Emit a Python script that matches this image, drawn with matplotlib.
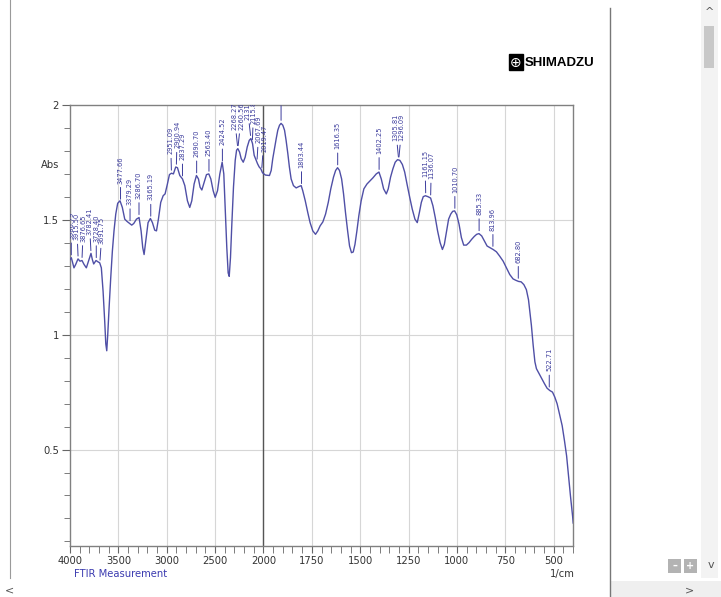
import matplotlib
matplotlib.use("Agg")
import matplotlib.pyplot as plt
import numpy as np
from matplotlib import font_manager
from matplotlib.patches import Rectangle
from matplotlib.lines import Line2D

# FTIR spectrum: wavenumber (1/cm) and absorbance
wavenumber = [
    4000, 3986, 3972, 3959, 3941, 3917, 3897, 3876, 3855, 3831, 3807, 3783,
    3769, 3755, 3731, 3710, 3693, 3676, 3658, 3641, 3630, 3620, 3610, 3596,
    3579, 3562, 3545, 3527, 3507, 3483, 3459, 3434, 3410, 3382, 3362, 3341,
    3313, 3286, 3265, 3248, 3234, 3217, 3193, 3169, 3148, 3124, 3106, 3086,
    3062, 3037, 3017, 2993, 2972, 2951, 2931, 2907, 2889, 2865, 2837, 2813,
    2786, 2762, 2741, 2717, 2693, 2672, 2655, 2637, 2613, 2589, 2565, 2544,
    2520, 2499, 2475, 2451, 2427, 2410, 2396, 2379, 2365, 2354, 2341, 2327,
    2310, 2292, 2278, 2265, 2247, 2230, 2209, 2189, 2168, 2147, 2130, 2113,
    2096, 2078, 2061, 2044, 2027, 2010, 1990, 1969, 1960, 1952, 1943, 1934,
    1926, 1917, 1909, 1900, 1891, 1883, 1874, 1866, 1857, 1845, 1831, 1817,
    1805, 1797, 1784, 1771, 1759, 1745, 1731, 1719, 1707, 1693, 1679, 1665,
    1652, 1638, 1627, 1617, 1607, 1596, 1586, 1576, 1565, 1555, 1545, 1536,
    1527, 1517, 1507, 1495, 1481, 1465, 1451, 1434, 1417, 1403, 1391, 1379,
    1365, 1355, 1343, 1331, 1319, 1307, 1295, 1282, 1270, 1258, 1244, 1231,
    1217, 1205, 1194, 1184, 1174, 1163, 1150, 1136, 1124, 1112, 1100, 1087,
    1075, 1065, 1055, 1043, 1032, 1022, 1012, 1001, 989, 977, 965, 951,
    937, 924, 910, 898, 886, 872, 858, 844, 830, 813, 796, 779,
    761, 744, 727, 710, 696, 682, 668, 654, 641, 630, 623, 615,
    606, 597, 589, 575, 561, 547, 534, 520, 506, 494, 482, 468,
    456, 444, 433, 423, 413, 402, 399,
]
absorbance = [
    1.327, 1.335, 1.313, 1.291, 1.306, 1.330, 1.320, 1.323, 1.306, 1.291, 1.323, 1.354,
    1.327, 1.308, 1.323, 1.317, 1.313, 1.291, 1.189, 1.057, 0.960, 0.930, 0.999, 1.116,
    1.247, 1.364, 1.452, 1.525, 1.572, 1.583, 1.554, 1.503, 1.493, 1.484, 1.477, 1.484,
    1.503, 1.510, 1.452, 1.379, 1.349, 1.408, 1.488, 1.506, 1.488, 1.455, 1.452, 1.503,
    1.576, 1.605, 1.613, 1.656, 1.697, 1.703, 1.700, 1.730, 1.727, 1.693, 1.678, 1.649,
    1.583, 1.554, 1.583, 1.656, 1.693, 1.678, 1.642, 1.630, 1.664, 1.697, 1.700, 1.678,
    1.627, 1.598, 1.627, 1.700, 1.751, 1.700, 1.554, 1.379, 1.269, 1.254, 1.335, 1.481,
    1.642, 1.759, 1.803, 1.810, 1.795, 1.766, 1.751, 1.773, 1.817, 1.846, 1.854, 1.832,
    1.781, 1.762, 1.744, 1.730, 1.722, 1.705, 1.695, 1.693, 1.715, 1.766, 1.810, 1.854,
    1.890, 1.912, 1.920, 1.912, 1.890, 1.846, 1.788, 1.730, 1.678, 1.649, 1.639, 1.645,
    1.649, 1.627, 1.583, 1.532, 1.488, 1.452, 1.437, 1.452, 1.474, 1.491, 1.525, 1.576,
    1.635, 1.686, 1.715, 1.727, 1.715, 1.678, 1.613, 1.532, 1.452, 1.386, 1.357, 1.360,
    1.393, 1.452, 1.518, 1.583, 1.635, 1.656, 1.668, 1.683, 1.700, 1.708, 1.678, 1.635,
    1.613, 1.635, 1.686, 1.722, 1.751, 1.762, 1.759, 1.741, 1.708, 1.656, 1.598, 1.547,
    1.503, 1.488, 1.532, 1.576, 1.601, 1.605, 1.601, 1.595, 1.561, 1.510, 1.452, 1.401,
    1.371, 1.393, 1.444, 1.503, 1.525, 1.537, 1.539, 1.522, 1.481, 1.423, 1.390, 1.390,
    1.401, 1.415, 1.428, 1.437, 1.440, 1.430, 1.408, 1.386, 1.379, 1.371, 1.361, 1.342,
    1.320, 1.291, 1.262, 1.243, 1.237, 1.232, 1.230, 1.218, 1.196, 1.152, 1.101, 1.040,
    0.955, 0.882, 0.852, 0.830, 0.808, 0.786, 0.767, 0.757, 0.750, 0.728, 0.699, 0.648,
    0.604, 0.538, 0.472, 0.385, 0.297, 0.209, 0.180,
]

# peak picking labels
peak_labels = [
    "3986.79", "3915.50", "3876.65", "3782.41", "3728.40", "3691.75",
    "3477.66", "3379.29", "3286.70", "3165.19", "2951.09", "2900.94",
    "2837.29", "2690.70", "2563.40", "2424.52", "2268.27", "2260.56",
    "2131.77", "2115.83", "2067.69", "2019.47", "", "1803.44", "1616.35",
    "1402.25", "1305.81", "1296.09", "1161.15", "1136.07", "1010.70",
    "885.33", "813.96", "682.80", "522.71",
]
peak_pos = [
    3986.79, 3915.50, 3876.65, 3782.41, 3728.40, 3691.75,
    3477.66, 3379.29, 3286.70, 3165.19, 2951.09, 2900.94,
    2837.29, 2690.70, 2563.40, 2424.52, 2265.0, 2265.0,
    2130.0, 2115.83, 2067.69, 2019.47, 1909.0, 1803.44, 1616.35,
    1402.25, 1301.0, 1301.0, 1161.15, 1136.07, 1010.70,
    885.33, 813.96, 682.80, 522.71,
]
# text nudges (points) where labels crowd together
nudge = {"3915.50": -1.0, "3876.65": 1.0, "3782.41": -1.2, "3728.40": 0.0,
         "3691.75": 1.6, "2951.09": -0.6, "2900.94": 0.6,
         "2268.27": -2.5, "2260.56": 2.5, "2131.77": -2.6, "2115.83": 1.0,
         "2067.69": 1.4, "2019.47": 1.8, "1305.81": -2.2, "1296.09": 2.2,
         "1161.15": -0.5, "1136.07": 0.5}

x_major = [4000, 3500, 3000, 2500, 2000, 1750, 1500, 1250, 1000, 750, 500]
y_major = [0.5, 1, 1.5, 2]
y_major_labels = ["0.5", "1", "1.5", "2"]


def has_font(name, stretch="normal"):
    try:
        path = font_manager.findfont(
            font_manager.FontProperties(family=name, stretch=stretch),
            fallback_to_default=False)
        return path
    except ValueError:
        return None


# condensed face for the axis texts
if has_font("Liberation Sans Narrow"):
    narrow = dict(family="Liberation Sans Narrow")
else:
    narrow = dict(family="DejaVu Sans", stretch="condensed")
arial = "Liberation Sans" if has_font("Liberation Sans") else "DejaVu Sans"

W, H = 721, 597
fig = plt.figure(figsize=(W / 100, H / 100), dpi=100)
fig.patch.set_facecolor("white")


def fx(x):
    return x / W


def fy(y):
    return 1 - y / H


ax = fig.add_axes([fx(70), fy(546), fx(573) - fx(70), fy(105) - fy(546)])


# Shimadzu axis: 500 per division above 2000, 250 per division below
def fwd(x):
    x = np.asarray(x, float)
    return np.where(x >= 2000, x / 500.0, (x - 1000.0) / 250.0)


def inv(u):
    u = np.asarray(u, float)
    return np.where(u >= 4, u * 500.0, u * 250.0 + 1000.0)


ax.set_xscale("function", functions=(fwd, inv))
ax.set_xlim(4000, 400)
ax.set_ylim(0.08, 2.0)

line_col = "#4f4fa6"
lab_col = "#3b3b9c"

ax.plot(wavenumber, absorbance, color=line_col, lw=1.0, zorder=3)

# grid
for xv in x_major[1:]:
    ax.axvline(xv, color="#d6d6d6", lw=0.8, zorder=1)
ax.axvline(2000, color="#555555", lw=1.0, zorder=1.5)
for yv in y_major[:-1]:
    ax.axhline(yv, color="#d6d6d6", lw=0.8, zorder=1)

# ticks
minor_x = [v for v in list(range(4000, 2000, -100)) + list(range(2000, 399, -50))
           if v not in x_major]
ax.set_xticks(x_major)
ax.set_xticklabels([str(v) for v in x_major])
ax.set_xticks(minor_x, minor=True)
ax.set_yticks(y_major)
ax.set_yticklabels(y_major_labels)
ax.set_yticks(np.round(np.arange(0.1, 2.0, 0.1), 2), minor=True)
ax.tick_params(axis="both", which="both", direction="out", color="#666666",
               labelcolor="#333333", labelsize=8)
ax.tick_params(axis="x", which="both", length=5, pad=2)
ax.tick_params(axis="y", which="major", length=6, pad=2)
ax.tick_params(axis="y", which="minor", length=4)
for lab in ax.get_xticklabels() + ax.get_yticklabels():
    lab.set_family(narrow["family"])
    lab.set_stretch(narrow.get("stretch", "normal"))
for sp in ax.spines.values():
    sp.set_color("#808080")
    sp.set_linewidth(1.0)

# peak labels
wn_asc = np.array(wavenumber[::-1], float)
ab_asc = np.array(absorbance[::-1], float)
for lab, pos in zip(peak_labels, peak_pos):
    top = float(np.interp(pos, wn_asc, ab_asc))
    ax.annotate(lab, xy=(pos, top), xytext=(nudge.get(lab, 0.0), 13.5),
                textcoords="offset points", rotation=90, ha="center", va="bottom",
                fontsize=4.8, color=lab_col, clip_on=True,
                arrowprops=dict(arrowstyle="-", color=lab_col, lw=0.7,
                                shrinkA=0.8, shrinkB=2.2))

fig.text(fx(50), fy(165), "Abs", fontsize=8, color="#333333",
         ha="center", va="center", **narrow)
fig.text(fx(74), fy(574), "FTIR Measurement", fontsize=8,
         color="#3b3bb0", ha="left", va="center", **narrow)
fig.text(fx(575), fy(574), "1/cm", fontsize=8, color="#333333",
         ha="right", va="center", **narrow)

# Shimadzu logo
fig.patches.append(Rectangle((fx(509), fy(70)), fx(14), fy(54) - fy(70),
                             transform=fig.transFigure, color="black"))
fig.text(fx(516), fy(62.5), "\u2295", fontsize=10, color="white",
         ha="center", va="center", family="DejaVu Sans")
fig.text(fx(525), fy(62.5), "SHIMADZU", fontsize=9.5, fontweight="bold",
         family=arial, color="black", ha="left", va="center")

# viewer frame and scrollbars
fig.add_artist(Line2D([fx(10), fx(10)], [fy(0), fy(578)], color="#9a9a9a", lw=0.8))
fig.add_artist(Line2D([fx(610), fx(610)], [fy(8), fy(597)], color="#777777", lw=1.0))
fig.patches.append(Rectangle((fx(701), fy(578)), fx(17), fy(0) - fy(578),
                             transform=fig.transFigure, color="#f3f3f3", lw=0))
fig.patches.append(Rectangle((fx(704), fy(68)), fx(10), fy(26) - fy(68),
                             transform=fig.transFigure, color="#c8c8c8", lw=0))
fig.patches.append(Rectangle((fx(610), fy(597)), fx(111), fy(581) - fy(597),
                             transform=fig.transFigure, color="#efefef", lw=0))
for x0, sym in [(668, "\u2013"), (684, "+")]:
    fig.patches.append(Rectangle((fx(x0), fy(573)), fx(13), fy(559) - fy(573),
                                 transform=fig.transFigure, color="#b3b3b3", lw=0))
    fig.text(fx(x0 + 6.5), fy(566), sym, fontsize=7, color="white",
             ha="center", va="center", fontweight="bold")
fig.text(fx(709), fy(12), "^", fontsize=8, color="#555555", ha="center", va="center")
fig.text(fx(711), fy(565), "v", fontsize=8, color="#555555", ha="center", va="center")
fig.text(fx(9), fy(590), "<", fontsize=8, color="#555555", ha="center", va="center")
fig.text(fx(690), fy(590), ">", fontsize=8, color="#555555", ha="center", va="center")

fig.savefig("out.png", dpi=100)
